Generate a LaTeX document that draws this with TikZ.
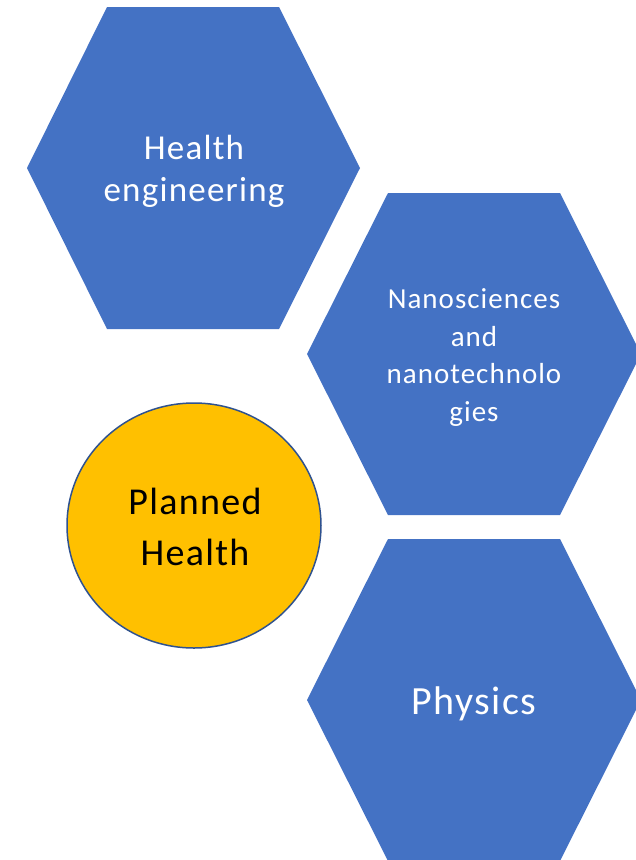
\documentclass[tikz,border=0pt]{standalone}
\usepackage{fontspec}
\setmainfont{Carlito}[LetterSpace=3.5]
\definecolor{hexblue}{HTML}{4472C4}
\definecolor{gold}{HTML}{FFC000}
\definecolor{ringblue}{HTML}{2F528F}
\begin{document}
\begin{tikzpicture}[x=1pt,y=-1pt,
  hexfill/.style={fill=hexblue},
  lbl/.style={anchor=base, inner sep=0pt, text=white},
  lblk/.style={anchor=base, inner sep=0pt, text=black}]
\useasboundingbox (0,0) rectangle (636,860);
\begin{scope}
\clip (0,0) rectangle (636,860);
\fill[hexfill] (107,7) -- (279,7) -- (360,168) -- (279,329) -- (107,329) -- (27,168) -- cycle;
\fill[hexfill] (388,193) -- (560,193) -- (641,354) -- (560,515) -- (388,515) -- (307,354) -- cycle;
\fill[hexfill] (388,539) -- (560,539) -- (641,700) -- (560,861) -- (388,861) -- (307,700) -- cycle;
\end{scope}
\draw[fill=gold, draw=ringblue, line width=1.5pt] (194,525.5) ellipse [x radius=127, y radius=122.5];
\node[lbl, font=\fontsize{35}{42.3}\selectfont] (he) at (194,159.3)
  {\begin{tabular}[t]{@{}c@{}}Health\\engineering\end{tabular}};
\node[lbl, font=\fontsize{29}{37.7}\selectfont] (nano) at (474,308.3)
  {\begin{tabular}[t]{@{}c@{}}Nanosciences\\and\\nanotechnolo\\gies\end{tabular}};
\node[lbl, font=\fontsize{40}{48}\selectfont] (phys) at (474,714.3) {Physics};
\node[lblk, font=\fontsize{38}{50.7}\selectfont] (plan) at (195,514.3)
  {\begin{tabular}[t]{@{}c@{}}Planned\\Health\end{tabular}};
\end{tikzpicture}
\end{document}
